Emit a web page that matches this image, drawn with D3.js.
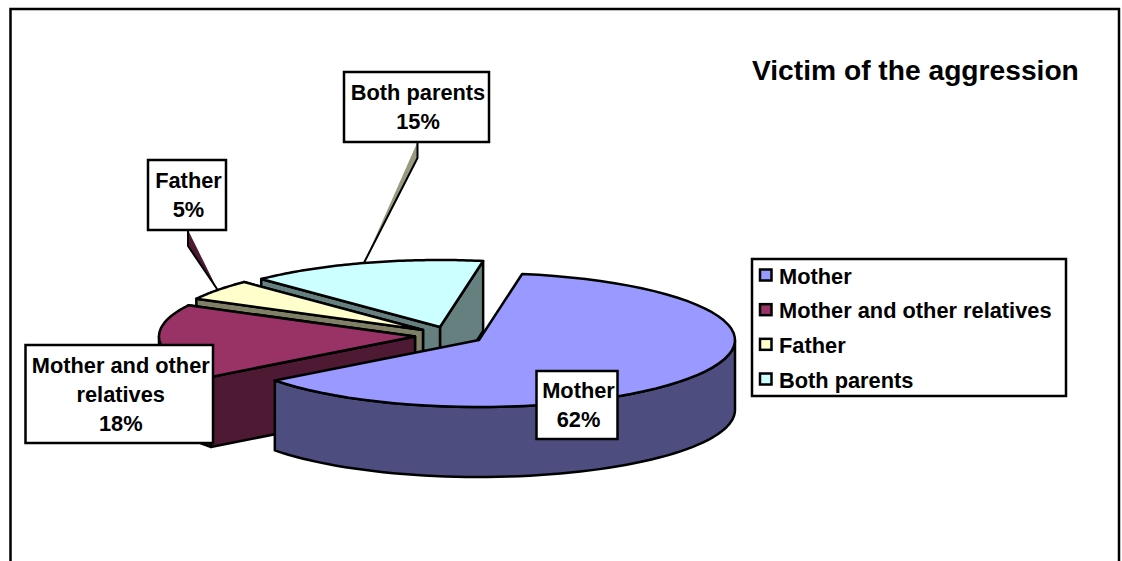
<!DOCTYPE html>
<html>
<head>
<meta charset="utf-8">
<script src="https://cdn.jsdelivr.net/npm/d3@7"></script>
<style>
    html, body { margin: 0; padding: 0; background: #fff; overflow: hidden; }
    text { font-family: "Liberation Sans", Arial, sans-serif; font-weight: bold; fill: #000; }
</style>
</head>
<body>
<div id="chart"></div>
<script>
const categories = ["Mother", "Mother and other relatives", "Father", "Both parents"];
const shares = [62, 18, 5, 15];
const topColors = ["#9999ff", "#993366", "#ffffcc", "#ccffff"];
const sideColors = ["#4d4d80", "#4d1933", "#808066", "#668080"];
const labelLines = [["Mother", "62%"], ["Mother and other", "relatives", "18%"], ["Father", "5%"], ["Both parents", "15%"]];

const width = 1122, height = 561;
const rx = 256, ry = 67, depth = 70, lineW = 2.5, fontSize = 21.8;
const firstAngle = 9.7 * Math.PI / 180;
// where each exploded slice has its tip
const tips = [[479, 340], [415, 336.5], [423, 330], [440, 327]];
const boxes = [[536.5, 371, 81, 68], [25.5, 345, 187.5, 98], [148, 160, 78, 70], [344, 72, 145, 70]];
const leaderFill = [null, null, "#4d1933", "#999980"];
const leaderX = [null, null, 188, 417.5];

const svg = d3.select("#chart").append("svg").attr("width", width).attr("height", height);

svg.append("rect").attr("x", 10.5).attr("y", 9).attr("width", 1108.5).attr("height", 600)
    .attr("fill", "#fff").attr("stroke", "#000").attr("stroke-width", lineW);

svg.append("text").attr("x", 752).attr("y", 80).attr("font-size", 28.2).text("Victim of the aggression");

const slices = d3.pie().sort(null).value(d => d)
    .startAngle(firstAngle).endAngle(firstAngle + 2 * Math.PI)(shares);

const rim = (i, a, dy = 0) => [tips[i][0] + rx * Math.sin(a), tips[i][1] - ry * Math.cos(a) + dy];
const line = d3.line();
const arcPts = (i, a0, a1, dy = 0) => d3.range(0, 61).map(k => rim(i, a0 + (a1 - a0) * k / 60, dy));

const style = (sel, fill) => sel.attr("fill", fill).attr("stroke", "#000")
    .attr("stroke-width", lineW).attr("stroke-linejoin", "round");

// leader lines sit behind the pie
[3, 2].forEach(i => {
    const s = slices[i], b = boxes[i];
    const end = rim(i, (s.startAngle + s.endAngle) / 2);
    const x = leaderX[i], top = b[1] + b[3];
    svg.append("path").attr("d", `M${x},${top}L${x},${top + 16}L${end}Z`).attr("fill", leaderFill[i]);
    svg.append("path").attr("d", `M${x},${top}L${x},${top + 16}L${end}`)
        .attr("fill", "none").attr("stroke", "#000").attr("stroke-width", 2);
});

// back to front
[3, 2, 1, 0].forEach(i => {
    const s = slices[i], tip = tips[i], g = svg.append("g");
    const tipLow = [tip[0], tip[1] + depth];
    // cut faces, the end one first so the start one lies over it
    [s.endAngle, s.startAngle].forEach(a => {
        if (i === 0) return;
        style(g.append("path"), sideColors[i])
            .attr("d", line([tip, rim(i, a), rim(i, a, depth), tipLow]) + "Z");
    });
    // outer wall, front half only
    const lo = Math.max(s.startAngle, Math.PI / 2), hi = Math.min(s.endAngle, 3 * Math.PI / 2);
    if (lo < hi) {
        style(g.append("path"), sideColors[i])
            .attr("d", line([...arcPts(i, lo, hi), ...arcPts(i, hi, lo, depth)]) + "Z");
    }
    style(g.append("path"), topColors[i])
        .attr("d", line([tip, ...arcPts(i, s.startAngle, s.endAngle)]) + "Z");
});

// data labels
boxes.forEach((b, i) => {
    svg.append("rect").attr("x", b[0]).attr("y", b[1]).attr("width", b[2]).attr("height", b[3])
        .attr("fill", "#fff").attr("stroke", "#000").attr("stroke-width", lineW);
    const lines = labelLines[i];
    const y0 = b[1] + b[3] / 2 - (lines.length - 1) * 14.35 + 7.8;
    lines.forEach((t, k) => {
        svg.append("text").attr("x", b[0] + b[2] / 2 + 1.5).attr("y", y0 + k * 28.7)
            .attr("text-anchor", "middle").attr("font-size", fontSize).text(t);
    });
});

// legend
svg.append("rect").attr("x", 752).attr("y", 259).attr("width", 314).attr("height", 137)
    .attr("fill", "#fff").attr("stroke", "#000").attr("stroke-width", lineW);
const legendY = d3.scalePoint().domain(categories).range([275, 379]);
categories.forEach((c, i) => {
    svg.append("rect").attr("x", 760).attr("y", legendY(c) - 5.5).attr("width", 11.5).attr("height", 11)
        .attr("fill", topColors[i]).attr("stroke", "#000").attr("stroke-width", lineW);
    svg.append("text").attr("x", 779).attr("y", legendY(c) + 8.8).attr("font-size", fontSize).text(c);
});
</script>
</body>
</html>
